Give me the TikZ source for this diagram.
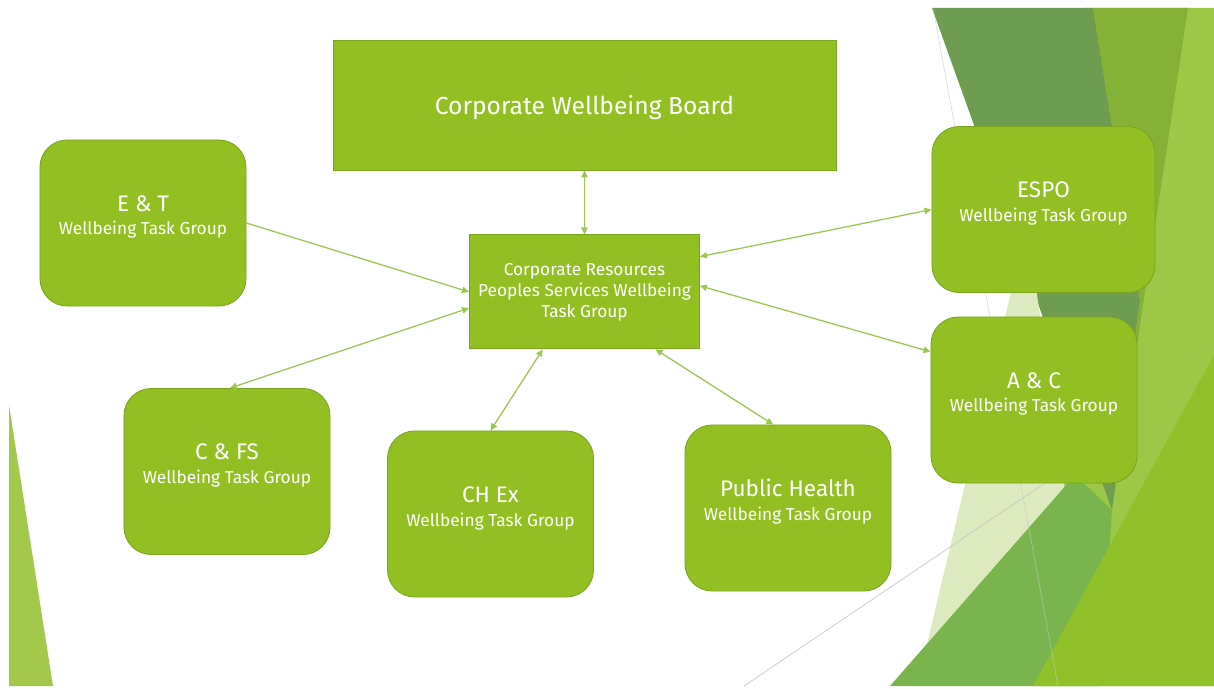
\documentclass[tikz,border=0pt]{standalone}
\usepackage{fontspec}
\setmainfont{Fira Sans}
\usetikzlibrary{arrows.meta, positioning}
\definecolor{boxgreen}{RGB}{146,192,35}
\definecolor{boxedge}{RGB}{122,165,30}
\definecolor{linkgreen}{RGB}{155,200,80}
\definecolor{facetdark}{RGB}{110,156,80}
\definecolor{facetolive}{RGB}{132,178,54}
\definecolor{facetlight}{RGB}{155,200,70}
\definecolor{facetpale}{RGB}{221,234,192}
\definecolor{facetmid}{RGB}{121,180,76}
\definecolor{facetbright}{RGB}{145,193,42}
\definecolor{facetleft}{RGB}{162,201,75}
\definecolor{facetgrey}{RGB}{200,200,200}
\newcommand{\subline}{\fontsize{12.3}{13}\selectfont}
\tikzset{
  board/.style={rectangle, draw=boxedge, fill=boxgreen, text=white,
    minimum width=12.575cm, minimum height=3.25cm, text depth=0pt,
    font=\fontsize{17.5}{20}\selectfont, line width=0.6pt},
  hub/.style={rectangle, draw=boxedge, fill=boxgreen, text=white,
    align=center, minimum width=5.75cm, minimum height=2.85cm,
    font=\fontsize{12.3}{15}\selectfont, line width=0.6pt},
  taskgroup/.style={rectangle, draw=boxedge, fill=boxgreen,
    minimum width=5.15cm, minimum height=4.15cm,
    rounded corners=0.68cm, line width=0.6pt},
  tasklabel/.style={text=white, align=center,
    font=\fontsize{16}{17}\selectfont},
  link/.style={{Triangle[length=5pt,width=4.5pt]}-{Triangle[length=5pt,width=4.5pt]},
    color=linkgreen, line width=0.9pt},
  onelink/.style={-{Triangle[length=5pt,width=4.5pt]},
    color=linkgreen, line width=0.9pt}
}

\begin{document}
\begin{tikzpicture}[x=0.025cm, y=-0.025cm]
  \useasboundingbox (0,0) rectangle (1214,689);
  \fill[white] (0,0) rectangle (1214,689);

  % facets in the corners
  \fill[facetleft] (9,405) -- (9,686) -- (53,686) -- cycle;
  \fill[facetlight] (1085,8) -- (1214,8) -- (1214,686) -- (1040,686) -- cycle;
  \fill[facetdark] (932,8) -- (1093,8) -- (1140,300) -- (1112,510) -- cycle;
  \fill[facetolive] (1093,8) -- (1188,8) -- (1112,510) -- (1140,300) -- cycle;
  \fill[facetpale] (1027,225) -- (917,686) -- (1093,686) -- cycle;
  \draw[facetgrey, line width=0.5pt] (744,686) -- (1045,483);
  \fill[facetmid] (890,686) -- (1075,475) -- (1112,510) -- (1100,686) -- cycle;
  \fill[facetbright] (1033,686) -- (1214,355) -- (1214,686) -- cycle;
  \draw[facetgrey, line width=0.5pt, opacity=0.6] (933,8) -- (1058,686);

  % boxes
  \node[board] (board) at (584.5,105) {Corporate Wellbeing Board};
  \node[hub, below=1.6cm of board] (cr) {Corporate Resources\\Peoples Services Wellbeing\\Task Group};

  \node[taskgroup] (et) at (143,223) {};
  \node[taskgroup, minimum width=5.575cm] (espo) at (1043.5,209.5) {};
  \node[taskgroup] (ac) at (1034,400) {};
  \node[taskgroup] (cfs) at (227,471.5) {};
  \node[taskgroup] (chex) at (490.5,514) {};
  \node[taskgroup] (ph) at (788,508) {};

  \node[tasklabel] (et-lbl) at ([yshift=0.15cm]et.center) {E \& T\\{\subline Wellbeing Task Group}};
  \node[tasklabel] (espo-lbl) at ([yshift=0.15cm]espo.center) {ESPO\\{\subline Wellbeing Task Group}};
  \node[tasklabel] (ac-lbl) at ([yshift=0.15cm]ac.center) {A \& C\\{\subline Wellbeing Task Group}};
  \node[tasklabel] (cfs-lbl) at ([yshift=0.15cm]cfs.center) {C \& FS\\{\subline Wellbeing Task Group}};
  \node[tasklabel] (chex-lbl) at ([yshift=0.15cm]chex.center) {CH Ex\\{\subline Wellbeing Task Group}};
  \node[tasklabel] (ph-lbl) at ([yshift=0.15cm]ph.center) {Public Health\\{\subline Wellbeing Task Group}};

  % links to the hub
  \draw[link] (board.south) -- (cr.north);
  \draw[onelink] (et.east) -- (cr.west);
  \draw[link] (cfs.88) -- (cr.188);
  \draw[link] (chex.north) -- (cr.234);
  \draw[link] (ph.100) -- (cr.321);
  \draw[link] (espo.west) -- (cr.17);
  \draw[link] (ac.155) -- (cr.3);
\end{tikzpicture}
\end{document}
